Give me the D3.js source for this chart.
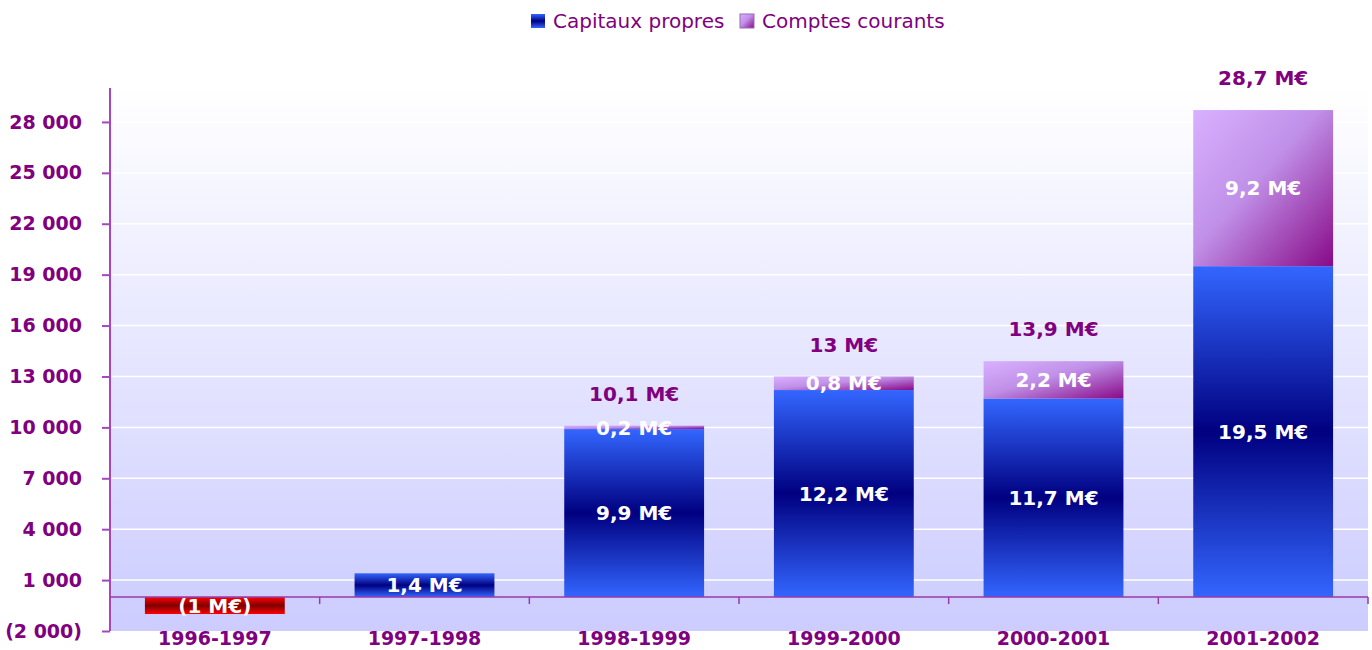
<!DOCTYPE html>
<html>
<head>
<meta charset="utf-8">
<script src="https://cdn.jsdelivr.net/npm/d3@7"></script>
<style>
  body { margin: 0; background: #fff; }
  svg { display: block; font-family: "DejaVu Sans", Verdana, sans-serif; }
</style>
</head>
<body>
<script>
// data (k€)
const years = ["1996-1997", "1997-1998", "1998-1999", "1999-2000", "2000-2001", "2001-2002"];
const capitaux = [-1000, 1400, 9900, 12200, 11700, 19500];
const comptes = [0, 0, 200, 800, 2200, 9200];
const seriesNames = ["Capitaux propres", "Comptes courants"];
const yTicks = [-2000, 1000, 4000, 7000, 10000, 13000, 16000, 19000, 22000, 25000, 28000];

const width = 1372;
const height = 650;
const margin = { top: 88, right: 4, bottom: 19, left: 110 };
const purple = "#800080";

const fr = d3.formatLocale({ decimal: ",", thousands: " ", grouping: [3], currency: ["", "€"] });
const fmtTick = (v) => (v < 0 ? `(${fr.format(",")(-v)})` : fr.format(",")(v));
const fmtM = (v) => (v < 0 ? `(${fr.format(".1~f")(-v / 1000)} M€)` : `${fr.format(".1~f")(v / 1000)} M€`);

const svg = d3.select("body").append("svg").attr("width", width).attr("height", height);

const x = d3.scaleBand()
  .domain(years)
  .range([margin.left, width - margin.right])
  .paddingInner(0.333)
  .paddingOuter(0.1665);

const y = d3.scaleLinear()
  .domain([-2000, 30000])
  .range([height - margin.bottom, margin.top]);

// gradients
const defs = svg.append("defs");
const vGrad = (id, edge, mid) => {
  const g = defs.append("linearGradient").attr("id", id).attr("x1", 0).attr("y1", 0).attr("x2", 0).attr("y2", 1);
  g.append("stop").attr("offset", "0%").attr("stop-color", edge);
  g.append("stop").attr("offset", "50%").attr("stop-color", mid);
  g.append("stop").attr("offset", "100%").attr("stop-color", edge);
};
vGrad("blue", "#3366ff", "#000080");
vGrad("red", "#ff0000", "#800000");

const pg = defs.append("linearGradient").attr("id", "violet").attr("x1", 0).attr("y1", 0).attr("x2", 1).attr("y2", 1);
pg.append("stop").attr("offset", "0%").attr("stop-color", "#d9b0ff");
pg.append("stop").attr("offset", "45%").attr("stop-color", "#c090e8");
pg.append("stop").attr("offset", "100%").attr("stop-color", "#880a88");

const bg = defs.append("linearGradient").attr("id", "bg").attr("x1", 0).attr("y1", 0).attr("x2", 0).attr("y2", 1);
bg.append("stop").attr("offset", "0%").attr("stop-color", "#ffffff");
bg.append("stop").attr("offset", "100%").attr("stop-color", "#ccccff");

// plot background
svg.append("rect")
  .attr("x", margin.left)
  .attr("y", margin.top)
  .attr("width", width - margin.right - margin.left)
  .attr("height", y(-2000) - margin.top)
  .attr("fill", "url(#bg)");

// grid lines
svg.append("g")
  .selectAll("line")
  .data(yTicks.filter((t) => t > -2000))
  .join("line")
  .attr("x1", margin.left)
  .attr("x2", width - margin.right)
  .attr("y1", (d) => y(d))
  .attr("y2", (d) => y(d))
  .attr("stroke", "#ffffff")
  .attr("stroke-width", 1.5);

// stacked bars
const rows = years.map((yr, i) => ({ year: yr, cap: capitaux[i], cc: comptes[i] }));

svg.append("g")
  .selectAll("rect")
  .data(rows)
  .join("rect")
  .attr("x", (d) => x(d.year))
  .attr("width", x.bandwidth())
  .attr("y", (d) => y(Math.max(0, d.cap)))
  .attr("height", (d) => Math.abs(y(d.cap) - y(0)))
  .attr("fill", (d) => (d.cap < 0 ? "url(#red)" : "url(#blue)"));

svg.append("g")
  .selectAll("rect")
  .data(rows.filter((d) => d.cc > 0))
  .join("rect")
  .attr("x", (d) => x(d.year))
  .attr("width", x.bandwidth())
  .attr("y", (d) => y(d.cap + d.cc))
  .attr("height", (d) => y(d.cap) - y(d.cap + d.cc))
  .attr("fill", "url(#violet)");

// axes
const axisColor = "#a645c0";
const yAxis = svg.append("g")
  .attr("transform", `translate(${margin.left},0)`)
  .call(d3.axisLeft(y).tickValues(yTicks).tickSize(8).tickFormat(fmtTick));
yAxis.select(".domain").attr("stroke", axisColor).attr("stroke-width", 2)
  .attr("d", `M0,${margin.top}V${y(-2000)}`);
yAxis.selectAll(".tick line").attr("stroke", axisColor).attr("stroke-width", 2);
yAxis.selectAll(".tick text")
  .attr("x", -28)
  .attr("fill", purple)
  .attr("font-size", 19)
  .attr("font-weight", "bold")
  .attr("font-family", "DejaVu Sans");

// zero line with category ticks
const bounds = d3.range(years.length + 1).map((i) => margin.left + i * x.step());
svg.append("line")
  .attr("x1", margin.left).attr("x2", width - margin.right)
  .attr("y1", y(0)).attr("y2", y(0))
  .attr("stroke", "#9a3aaa").attr("stroke-width", 1.5);
svg.append("g")
  .selectAll("line")
  .data(bounds.slice(1))
  .join("line")
  .attr("x1", (d) => d).attr("x2", (d) => d)
  .attr("y1", y(0)).attr("y2", y(0) + 7)
  .attr("stroke", "#9a3aaa").attr("stroke-width", 1.5);

// category labels
svg.append("g")
  .selectAll("text")
  .data(years)
  .join("text")
  .attr("x", (d) => x(d) + x.bandwidth() / 2)
  .attr("y", y(-2000) + 14)
  .attr("text-anchor", "middle")
  .attr("fill", purple)
  .attr("font-size", 19)
  .attr("font-weight", "bold")
  .text((d) => d);

// value labels inside segments
const segLabels = [];
rows.forEach((d) => {
  segLabels.push({ year: d.year, v: d.cap, mid: d.cap / 2 });
  if (d.cc > 0) segLabels.push({ year: d.year, v: d.cc, mid: d.cap + d.cc / 2 });
});
svg.append("g")
  .selectAll("text")
  .data(segLabels)
  .join("text")
  .attr("x", (d) => x(d.year) + x.bandwidth() / 2)
  .attr("y", (d) => y(d.mid))
  .attr("dy", "0.36em")
  .attr("text-anchor", "middle")
  .attr("fill", "#ffffff")
  .attr("font-size", 20)
  .attr("font-weight", "bold")
  .text((d) => fmtM(d.v));

// totals above the stacks
svg.append("g")
  .selectAll("text")
  .data(rows.filter((d) => d.cc > 0))
  .join("text")
  .attr("x", (d) => x(d.year) + x.bandwidth() / 2)
  .attr("y", (d) => y(d.cap + d.cc) - 32)
  .attr("dy", "0.36em")
  .attr("text-anchor", "middle")
  .attr("fill", purple)
  .attr("font-size", 20)
  .attr("font-weight", "bold")
  .text((d) => fmtM(d.cap + d.cc));

// legend
const legend = svg.append("g").attr("transform", "translate(531,14)");
const lgFill = ["url(#blue)", "url(#violet)"];
const lgX = [0, 209];
seriesNames.forEach((name, i) => {
  const g = legend.append("g").attr("transform", `translate(${lgX[i]},0)`);
  g.append("rect").attr("width", 14).attr("height", 14).attr("fill", lgFill[i])
    .attr("stroke", i ? "#9a6ab0" : "none").attr("stroke-width", 1);
  g.append("text")
    .attr("x", 22).attr("y", 7).attr("dy", "0.36em")
    .attr("fill", purple).attr("font-size", 20)
    .text(name);
});
</script>
</body>
</html>
